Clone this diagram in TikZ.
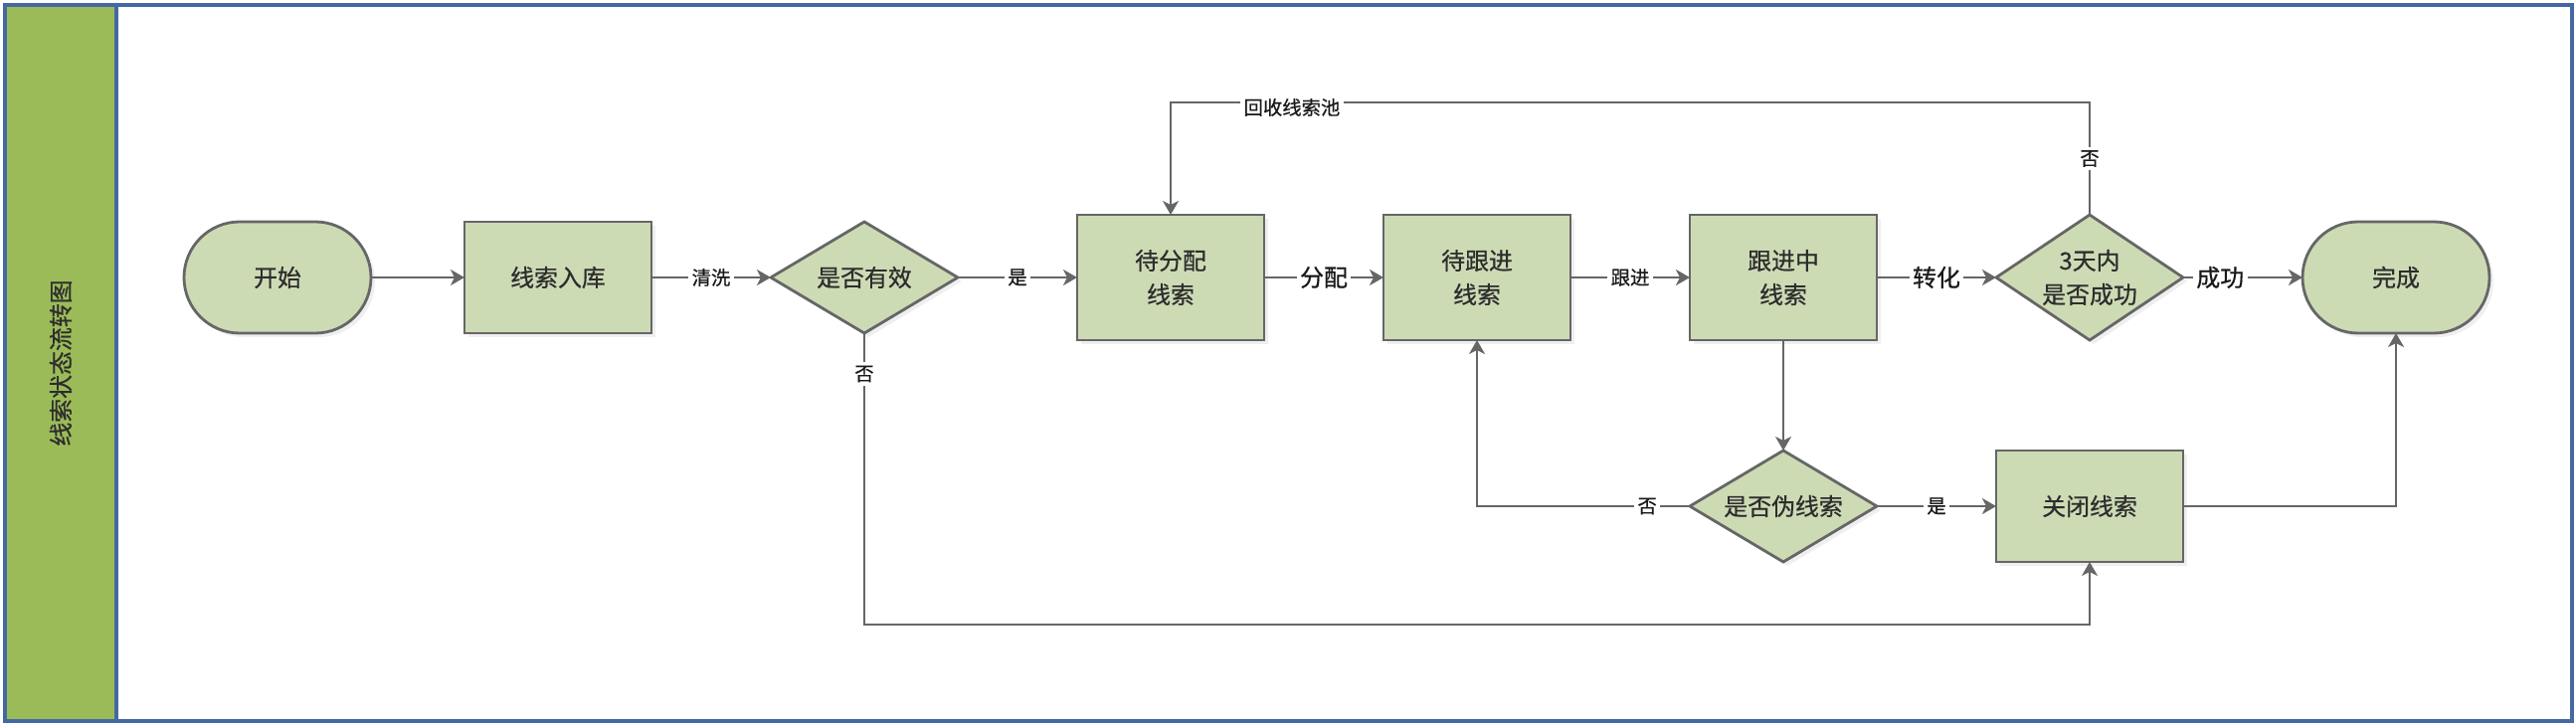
\documentclass[tikz,border=0pt]{standalone}
\usepackage{fontspec}
\setmainfont{Noto Sans CJK SC}[FakeBold=0.6]
\usepackage{tikz}
\usetikzlibrary{positioning,shapes,shadows,arrows.meta}
\definecolor{leadfill}{RGB}{205,219,181}
\definecolor{leadline}{RGB}{102,102,102}
\definecolor{lanegreen}{RGB}{155,187,89}
\definecolor{laneblue}{RGB}{68,104,163}
\definecolor{leadtext}{RGB}{45,45,45}

\begin{document}
\begin{tikzpicture}[
  >={Stealth[length=1.4mm,width=1.6mm,inset=0.4mm]},
  every node/.style={outer sep=0pt},
  stbox/.style={rectangle, draw=leadline, line width=0.8pt, fill=leadfill,
    minimum width=1.88cm, minimum height=1.12cm, align=center, text=leadtext,
    font=\fontsize{6.8}{9.7}\selectfont,
    drop shadow={shadow xshift=0.4mm, shadow yshift=-0.4mm, fill=black!12}},
  tall/.style={minimum height=1.26cm},
  term/.style={stbox, rounded corners=0.56cm},
  ask/.style={stbox, diamond, shape aspect=1.68, inner sep=0pt},
  flow/.style={draw=leadline, line width=0.6pt, ->},
  lbl/.style={fill=white, inner sep=1pt, text=black!90, font=\fontsize{5.5}{6}\selectfont},
  biglbl/.style={lbl, font=\fontsize{6.8}{7}\selectfont},
]
\useasboundingbox (0,0) rectangle (25.9,7.3);
\draw [laneblue, line width=1pt] (0.05,0.05) rectangle (25.86,7.25);
\draw [laneblue, line width=1pt, fill=lanegreen] (0.05,0.05) rectangle (1.17,7.25);
\node [rotate=90, text=leadtext, font=\fontsize{6.8}{7}\selectfont] (lanetitle) at (0.61,3.65) {线索状态流转图};

\coordinate (recycle) at (0,6.27);
\coordinate (bottomrun) at (0,1.02);

\node [term] (start) at (2.79,4.51) {开始};
\node [stbox, right=0.94cm of start] (intake) {线索入库};
\node [ask, right=1.2cm of intake] (valid) {是否有效};
\node [stbox, tall, right=1.2cm of valid] (assign) {待分配\\线索};
\node [stbox, tall, right=1.2cm of assign] (follow) {待跟进\\线索};
\node [stbox, tall, right=1.2cm of follow] (doing) {跟进中\\线索};
\node [ask, tall, shape aspect=1.49, right=1.2cm of doing] (verdict) {3天内\\是否成功};
\node [term, right=1.2cm of verdict] (done) {完成};
\node [ask, below=1.11cm of doing] (fake) {是否伪线索};
\node [stbox, right=1.2cm of fake] (close) {关闭线索};

\draw [flow] (start) -- (intake);
\draw [flow] (intake) -- node [lbl] {清洗} (valid);
\draw [flow] (valid) -- node [lbl] {是} (assign);
\draw [flow] (assign) -- node [biglbl] {分配} (follow);
\draw [flow] (follow) -- node [lbl] {跟进} (doing);
\draw [flow] (doing) -- node [biglbl] {转化} (verdict);
\draw [flow] (verdict) -- node [biglbl, pos=0.31] {成功} (done);
\draw [flow] (verdict.north) -- node [lbl] {否} (verdict.north |- recycle)
  -| node [lbl, pos=0.434, yshift=-0.5mm] {回收线索池} (assign.north);
\draw [flow] (doing) -- (fake);
\draw [flow] (fake) -| node [lbl, pos=0.1] {否} (follow);
\draw [flow] (fake) -- node [lbl] {是} (close);
\draw [flow] (close) -| (done);
\draw [flow] (valid.south) -- node [lbl, pos=0.14] {否} (valid.south |- bottomrun) -| (close.south);
\end{tikzpicture}
\end{document}
